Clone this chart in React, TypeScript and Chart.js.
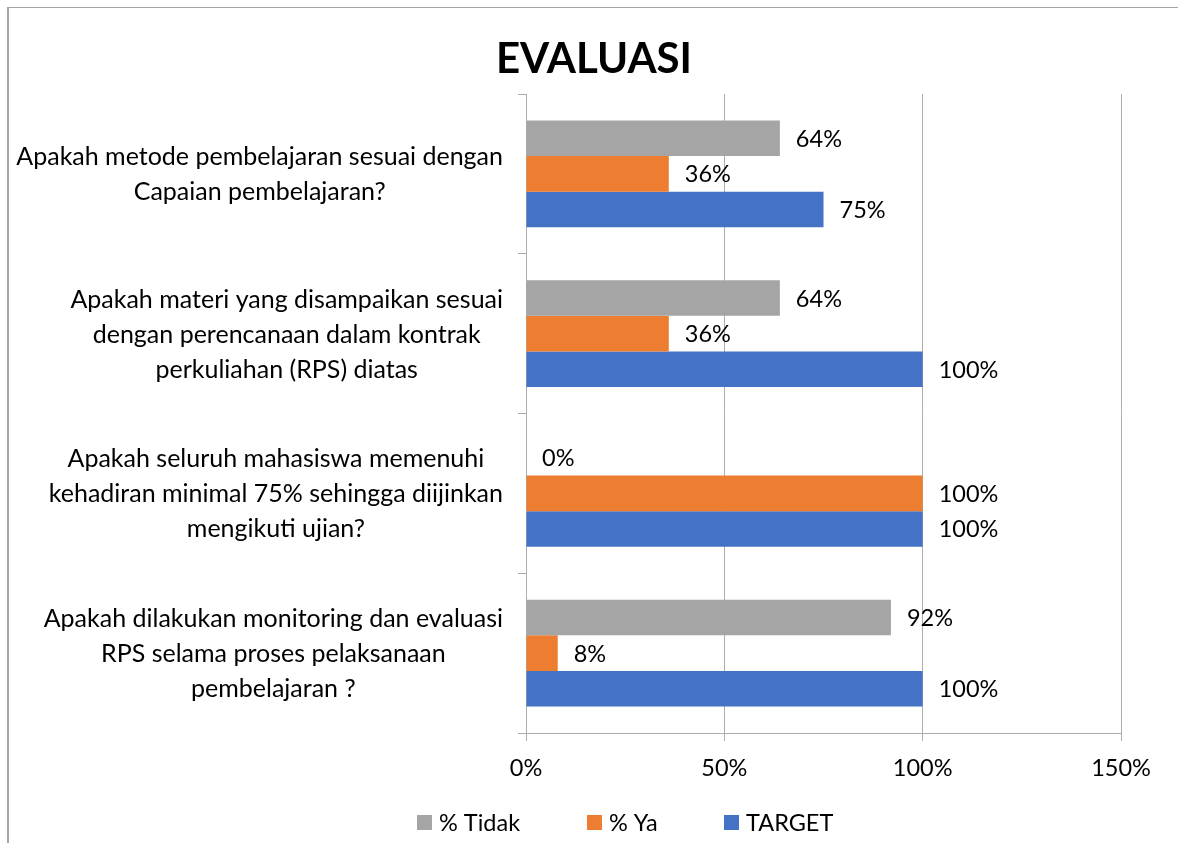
import React, { useEffect, useRef } from "react";
import { Chart, registerables } from "chart.js";

Chart.register(...registerables);

const TITLE = "EVALUASI";
const categories: string[][] = [
  ["Apakah metode pembelajaran sesuai dengan", "Capaian pembelajaran?"],
  ["Apakah materi yang disampaikan sesuai", "dengan perencanaan dalam kontrak", "perkuliahan (RPS) diatas"],
  ["Apakah seluruh mahasiswa memenuhi", "kehadiran minimal 75% sehingga diijinkan", "mengikuti ujian?"],
  ["Apakah dilakukan monitoring dan evaluasi", "RPS selama proses pelaksanaan", "pembelajaran ?"],
];
const tidak = [64, 64, 0, 92];
const ya = [36, 36, 100, 8];
const target = [75, 100, 100, 100];
const seriesNames = ["% Tidak", "% Ya", "TARGET"];
const seriesColors = ["#A5A5A5", "#ED7D31", "#4472C4"];
const xTicks = [0, 50, 100, 150];

const FONT = "Lato, 'Open Sans', sans-serif";
const FS = 23.5;
const CAT_FS = 25;

const customPlugin = {
  id: "customText",
  afterDraw(chart: any) {
    const ctx = chart.ctx as CanvasRenderingContext2D;
    ctx.save();
    ctx.fillStyle = "#000";
    // title
    ctx.font = `bold 42px ${FONT}`;
    ctx.textAlign = "center";
    ctx.textBaseline = "middle";
    ctx.fillText(TITLE, 594, 59);

    ctx.font = `${FS}px ${FONT}`;
    // data labels
    chart.data.datasets.forEach((ds: any, di: number) => {
      const meta = chart.getDatasetMeta(di);
      meta.data.forEach((bar: any, i: number) => {
        ctx.textAlign = "left";
        ctx.textBaseline = "middle";
        ctx.fillText(`${ds.data[i]}%`, bar.x + 16, bar.y + 1);
      });
    });
    // category labels
    ctx.font = `${CAT_FS}px ${FONT}`;
    const yScale = chart.scales.y;
    const right = 503;
    const lh = 35;
    categories.forEach((lines, i) => {
      const cy = yScale.getPixelForValue(i);
      const maxW = Math.max(...lines.map((l) => ctx.measureText(l).width));
      const cx = right - maxW / 2;
      ctx.textAlign = "center";
      ctx.textBaseline = "middle";
      lines.forEach((l, j) => {
        ctx.fillText(l, cx, cy + 1 + (j - (lines.length - 1) / 2) * lh);
      });
    });
    // legend
    ctx.font = `${FS}px ${FONT}`;
    const boxX = [417, 587, 724];
    seriesNames.forEach((n, i) => {
      ctx.fillStyle = seriesColors[i];
      ctx.fillRect(boxX[i], 815, 15, 15);
      ctx.fillStyle = "#000";
      ctx.textAlign = "left";
      ctx.textBaseline = "middle";
      ctx.fillText(n, boxX[i] + 22, 823);
    });
    ctx.restore();
  },
};

export default function App() {
  const ref = useRef<HTMLCanvasElement>(null);
  useEffect(() => {
    if (!ref.current) return;
    const chart = new Chart(ref.current, {
      type: "bar",
      data: {
        labels: categories.map((c) => c.join(" ")),
        datasets: [
          { label: seriesNames[0], data: tidak, backgroundColor: seriesColors[0] },
          { label: seriesNames[1], data: ya, backgroundColor: seriesColors[1] },
          { label: seriesNames[2], data: target, backgroundColor: seriesColors[2] },
        ],
      },
      options: {
        indexAxis: "y",
        responsive: false,
        animation: false,
        datasets: { bar: { categoryPercentage: 0.667, barPercentage: 1 } } as any,
        layout: { padding: { top: 94, right: 57, left: 0, bottom: 0 } },
        plugins: { legend: { display: false }, title: { display: false }, tooltip: { enabled: false } },
        scales: {
          x: {
            min: 0,
            max: 150,
            afterBuildTicks: (s: any) => {
              s.ticks = xTicks.map((v) => ({ value: v }));
            },
            afterFit: (s: any) => {
              s.height = 110;
            },
            ticks: {
              callback: (v: any) => `${v}%`,
              font: { family: FONT, size: FS },
              color: "#000",
              padding: 13,
            },
            grid: { color: "#ADADAD", tickLength: 8, lineWidth: 1 },
            border: { color: "#ADADAD" },
          },
          y: {
            afterFit: (s: any) => {
              s.width = 526;
            },
            ticks: { display: false },
            grid: { drawOnChartArea: false, tickLength: 8, color: "#ADADAD", offset: true },
            border: { color: "#ADADAD" },
          },
        },
      },
      plugins: [customPlugin],
    });
    return () => chart.destroy();
  }, []);
  return (
    <div>
      <div
        style={{
          position: "fixed",
          left: 7,
          top: 7,
          width: 1200,
          height: 900,
          borderTop: "1px solid #A6A6A6",
          borderLeft: "2px solid #A6A6A6",
        }}
      />
      <canvas
        ref={ref}
        width={1178}
        height={843}
        style={{ position: "fixed", left: 0, top: 0, width: 1178, height: 843 }}
      />
    </div>
  );
}
